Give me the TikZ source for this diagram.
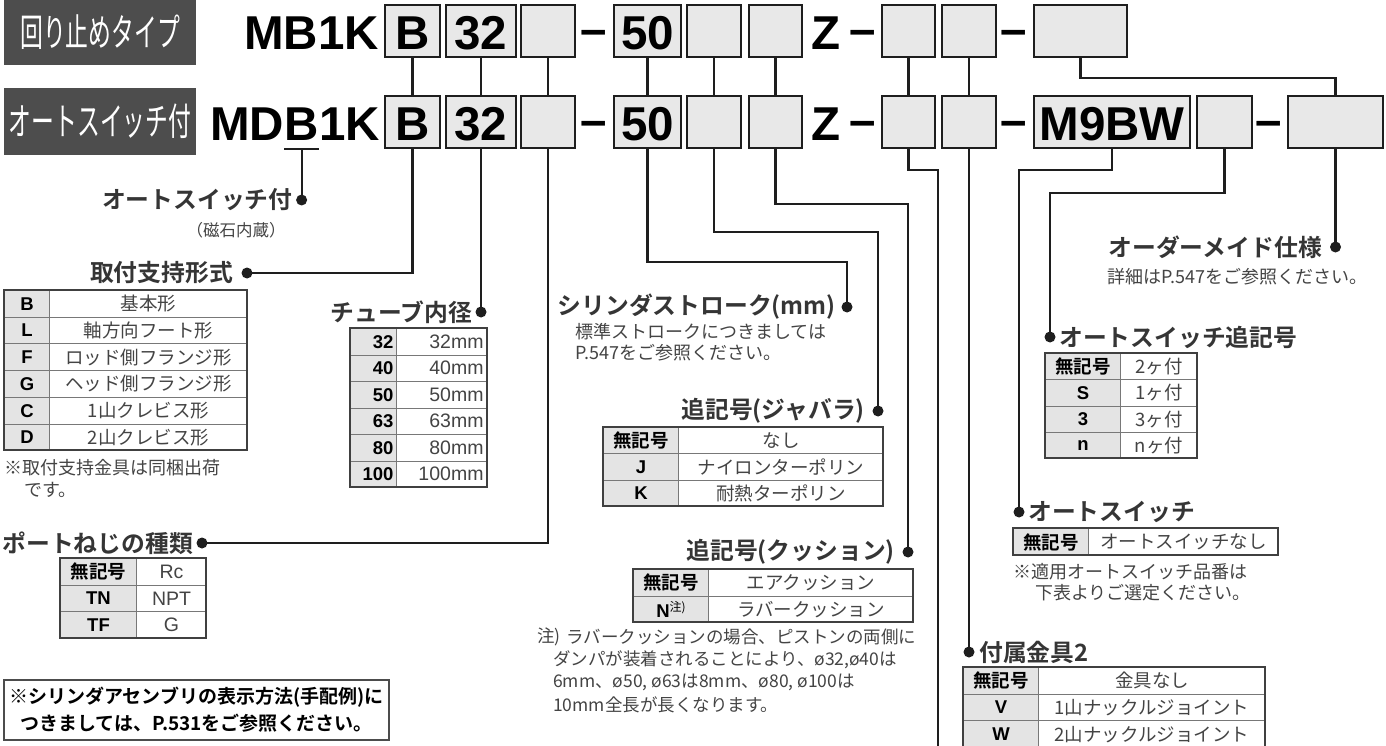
\documentclass[tikz,border=0pt]{standalone}
\usepackage{fontspec}
\setmainfont{Noto Sans CJK JP}
\newfontfamily\codefont{Liberation Sans}
\newfontfamily\heavyfont{Noto Sans CJK JP Bold}
\newfontfamily\tagfont[FakeStretch=0.6]{Noto Sans CJK JP}
\newcommand\fsz[1]{\fontsize{#1}{#1}\selectfont}
\definecolor{tagbg}{RGB}{77,77,77}
\definecolor{boxbg}{RGB}{232,232,232}
\definecolor{keybg}{RGB}{228,228,228}
\definecolor{ink}{RGB}{30,30,30}
\definecolor{soft}{RGB}{68,68,68}
\definecolor{rulegray}{RGB}{120,120,120}
\tikzset{
tagbox/.style={fill=tagbg,text=white,font=\tagfont\fsz{38},inner sep=0,minimum width=192pt},
codetext/.style={font=\codefont\bfseries\fsz{47.5},inner sep=0},
codebox/.style={codetext,draw=ink,fill=boxbg,line width=1.8pt,minimum height=52pt,text height=38pt,text depth=0pt},
leader/.style={draw=ink,line width=2.2pt},
headline/.style={font=\heavyfont\fsz{23.8},text=ink!90,inner sep=0},
remark/.style={font=\fsz{18},text=soft,inner sep=0,anchor=west},
keycell/.style={draw=rulegray,fill=keybg,line width=1pt,font=\heavyfont\fsz{18.5},inner sep=0,anchor=north west},
valcell/.style={draw=rulegray,line width=1pt,font=\fsz{18.5},text=soft,inner sep=0,anchor=north west},
tblframe/.style={draw=black!75,line width=1.6pt}
}
\newcommand\lat[1]{{\codefont\bfseries #1}}
\begin{document}
\begin{tikzpicture}[x=1pt,y=-1pt]
\path[fill=white,use as bounding box](0,0)rectangle(1386,746);
% type tags and model codes
\node[tagbox,minimum height=65pt](tagA)at(100,32.5){回り止めタイプ};
\node[tagbox,minimum height=67pt](tagB)at(100,121.5){オートスイッチ付};
\node[codetext,anchor=base east](mbA)at(379,50){MB1K};
\node[codetext,anchor=base west](mdA)at(210,141){MD};
\node[codetext,anchor=base west](mdB)at(mdA.base east){B};
\node[codetext,anchor=base west](mdC)at(mdB.base east){1K};
% upper row
\node[codebox,minimum width=55pt](t1)at(412.5,31){B};
\node[codebox,minimum width=70pt](t2)at(481,31){32};
\node[codebox,minimum width=54pt](t3)at(548,31){};
\node[codetext,anchor=base](hA1)at(594,46){–};
\node[codebox,minimum width=67pt](t4)at(647.5,31){50};
\node[codebox,minimum width=54pt](t5)at(714,31){};
\node[codebox,minimum width=53pt](t6)at(775.5,31){};
\node[codetext,anchor=base](zA)at(826,50){Z};
\node[codetext,anchor=base](hA2)at(863,46){–};
\node[codebox,minimum width=53pt](t7)at(908.5,31){};
\node[codebox,minimum width=54pt](t8)at(969,31){};
\node[codetext,anchor=base](hA3)at(1013.5,46){–};
\node[codebox,minimum width=93pt](t9)at(1080.5,31){};
% lower row
\node[codebox,minimum width=55pt](b1)at(412.5,122){B};
\node[codebox,minimum width=70pt](b2)at(481,122){32};
\node[codebox,minimum width=54pt](b3)at(548,122){};
\node[codetext,anchor=base](hB1)at(594,137){–};
\node[codebox,minimum width=67pt](b4)at(647.5,122){50};
\node[codebox,minimum width=54pt](b5)at(714,122){};
\node[codebox,minimum width=53pt](b6)at(775.5,122){};
\node[codetext,anchor=base](zB)at(826,141){Z};
\node[codetext,anchor=base](hB2)at(863,137){–};
\node[codebox,minimum width=53pt](b7)at(908.5,122){};
\node[codebox,minimum width=54pt](b8)at(969,122){};
\node[codetext,anchor=base](hB3)at(1013.5,137){–};
\node[codebox,minimum width=156pt](b9)at(1112,122){M9BW};
\node[codebox,minimum width=55pt](b10)at(1224.5,122){};
\node[codetext,anchor=base](hB4)at(1269,137){–};
\node[codebox,minimum width=95pt](b11)at(1335.5,122){};
% leader ends and bends
\coordinate(dAuto)at([yshift=-59pt]mdB.base);
\coordinate(dMount)at(247,273);\coordinate(dBore)at(481,312);\coordinate(dPort)at(202,543);
\coordinate(kStroke)at(847,262);\coordinate(dStroke)at(847,307);
\coordinate(kBel)at(878,232);\coordinate(dBel)at(878,411);
\coordinate(kCus)at(908,204);\coordinate(dCus)at(908,552);
\coordinate(kAcc1)at(938,170);\coordinate(eAcc1)at(938,750);
\coordinate(dAcc2)at(969,652);
\coordinate(kSw)at(1019,170);\coordinate(dSw)at(1019,512);
\coordinate(kSwn)at(1050,193);\coordinate(dSwn)at(1050,337);
\coordinate(dMade)at(1335.5,247);
% leaders
\foreach\n in{1,...,8}\draw[leader](t\n.south)--(b\n.north);
\draw[leader](t9.south)--++(0,20)-|(b11.north);
\draw[leader]([yshift=-8pt]mdB.base west)--([yshift=-8pt]mdB.base east);
\draw[leader]([yshift=-8pt]mdB.base)--(dAuto);
\draw[leader](b1.south)|-(dMount);
\draw[leader](b2.south)--(dBore);
\draw[leader](b3.south)|-(dPort);
\draw[leader](b4.south)|-(kStroke)--(dStroke);
\draw[leader](b5.south)|-(kBel)--(dBel);
\draw[leader](b6.south)|-(kCus)--(dCus);
\draw[leader](b7.south)|-(kAcc1)--(eAcc1);
\draw[leader](b8.south)--(dAcc2);
\draw[leader](b9.south)|-(kSw)--(dSw);
\draw[leader](b10.south)|-(kSwn)--(dSwn);
\draw[leader](b11.south)--(dMade);
\foreach\d in{dAuto,dMount,dBore,dPort,dStroke,dBel,dCus,dAcc2,dSw,dSwn,dMade}\fill[ink](\d)circle(5.5);
% headlines
\node[headline,anchor=east](lAuto)at([xshift=-9pt]dAuto){オートスイッチ付};
\node[font=\fsz{16.5},text=soft](lAutoSub)at(236,230){（磁石内蔵）};
\node[headline,anchor=east](lMount)at(233,273){取付支持形式};
\node[headline,anchor=east](lBore)at(472,312){チューブ内径};
\node[headline,anchor=east](lPort)at(193,543){ポートねじの種類};
\node[headline,anchor=east](lStroke)at(836,307){シリンダストローク(mm)};
\node[headline,anchor=east](lBel)at(865,411){追記号(ジャバラ)};
\node[headline,anchor=east](lCus)at(895,552){追記号(クッション)};
\node[headline,anchor=east](lMade)at(1322,247){オーダーメイド仕様};
\node[headline,anchor=west](lSwn)at(1059,337){オートスイッチ追記号};
\node[headline,anchor=west](lSw)at(1028,512){オートスイッチ};
\node[headline,anchor=west](lAcc2)at(979,652){付属金具2};
% remarks
\node[remark](rMount1)at(4,468){※取付支持金具は同梱出荷};
\node[remark](rMount2)at(24,490){です。};
\node[remark](rStroke1)at(575,332){標準ストロークにつきましては};
\node[remark](rStroke2)at(575,353){P.547をご参照ください。};
\node[remark](rMade)at(1107,277){詳細はP.547をご参照ください。};
\node[remark](rSw1)at(1013,572){※適用オートスイッチ品番は};
\node[remark](rSw2)at(1035,593){下表よりご選定ください。};
\node[remark,font=\fsz{17.5}](rCus0)at(537,637){注)};
\node[remark,font=\fsz{17.5}](rCus1)at(566,637){ラバークッションの場合、ピストンの両側に};
\node[remark,font=\fsz{17.5}](rCus2)at(553,659.7){ダンパが装着されることにより、ø32,ø40は};
\node[remark,font=\fsz{17.5}](rCus3)at(553,682.4){6mm、ø50, ø63は8mm、ø80, ø100は};
\node[remark,font=\fsz{17.5}](rCus4)at(553,705){10mm全長が長くなります。};
\node[draw=black!70,line width=1.5pt,minimum width=385pt,minimum height=60pt,align=center,
 font=\heavyfont\fontsize{19}{27}\selectfont](ref)at(196.5,710){※シリンダアセンブリの表示方法(手配例)に\\つきましては、P.531をご参照ください。};
% tables
\foreach\k/\v[count=\i from 0]in{B/基本形,L/軸方向フート形,F/ロッド側フランジ形,G/ヘッド側フランジ形,C/1山クレビス形,D/2山クレビス形}{
\node[keycell,minimum width=45pt,minimum height=26.7pt](mK\i)at(4,{290+26.7*\i}){\lat{\k}};
\node[valcell,minimum width=198pt,minimum height=26.7pt](mV\i)at(49,{290+26.7*\i}){\v};}
\draw[tblframe](4,290)rectangle(247,450.2);
\foreach\k[count=\i from 0]in{32,40,50,63,80,100}{
\node[keycell,minimum height=26.5pt,text width=40pt,inner xsep=3pt,align=right](cK\i)at(350,{328+26.5*\i}){\lat{\k}};
\node[valcell,minimum height=26.5pt,text width=83pt,inner xsep=4pt,align=right,font=\codefont\fsz{19.5}](cV\i)at(396,{328+26.5*\i}){\k mm};}
\draw[tblframe](350,328)rectangle(487,487);
\foreach\k/\v[count=\i from 0]in{無記号/Rc,\lat{TN}/NPT,\lat{TF}/G}{
\node[keycell,minimum width=76pt,minimum height=26.7pt](pK\i)at(60,{558+26.7*\i}){\k};
\node[valcell,minimum width=70pt,minimum height=26.7pt,font=\codefont\fsz{19.5}](pV\i)at(136,{558+26.7*\i}){\v};}
\draw[tblframe](60,558)rectangle(206,638.1);
\foreach\k/\v[count=\i from 0]in{無記号/なし,\lat{J}/ナイロンターポリン,\lat{K}/耐熱ターポリン}{
\node[keycell,minimum width=75pt,minimum height=26.3pt](jK\i)at(603,{427+26.3*\i}){\k};
\node[valcell,minimum width=205pt,minimum height=26.3pt](jV\i)at(678,{427+26.3*\i}){\v};}
\draw[tblframe](603,427)rectangle(883,505.9);
\foreach\k/\v[count=\i from 0]in{無記号/エアクッション,\lat{N}{\rmfamily\mdseries\fsz{12}\raisebox{6pt}{注)}}/ラバークッション}{
\node[keycell,minimum width=75pt,minimum height=26.5pt](qK\i)at(633,{569+26.5*\i}){\k};
\node[valcell,minimum width=205pt,minimum height=26.5pt](qV\i)at(708,{569+26.5*\i}){\v};}
\draw[tblframe](633,569)rectangle(913,622);
\foreach\k/\v[count=\i from 0]in{無記号/2ヶ付,\lat{S}/1ヶ付,\lat{3}/3ヶ付,\lat{n}/nヶ付}{
\node[keycell,minimum width=75pt,minimum height=26.3pt](sK\i)at(1045,{353+26.3*\i}){\k};
\node[valcell,minimum width=77pt,minimum height=26.3pt](sV\i)at(1120,{353+26.3*\i}){\v};}
\draw[tblframe](1045,353)rectangle(1197,458.2);
\node[keycell,minimum width=75pt,minimum height=27pt](wK0)at(1013,528){無記号};
\node[valcell,minimum width=190pt,minimum height=27pt](wV0)at(1088,528){オートスイッチなし};
\draw[tblframe](1013,528)rectangle(1278,555);
\foreach\k/\v[count=\i from 0]in{無記号/金具なし,\lat{V}/1山ナックルジョイント,\lat{W}/2山ナックルジョイント}{
\node[keycell,minimum width=75pt,minimum height=26.7pt](aK\i)at(963,{667+26.7*\i}){\k};
\node[valcell,minimum width=227pt,minimum height=26.7pt](aV\i)at(1038,{667+26.7*\i}){\v};}
\draw[tblframe](963,667)rectangle(1265,747.1);
\end{tikzpicture}
\end{document}
